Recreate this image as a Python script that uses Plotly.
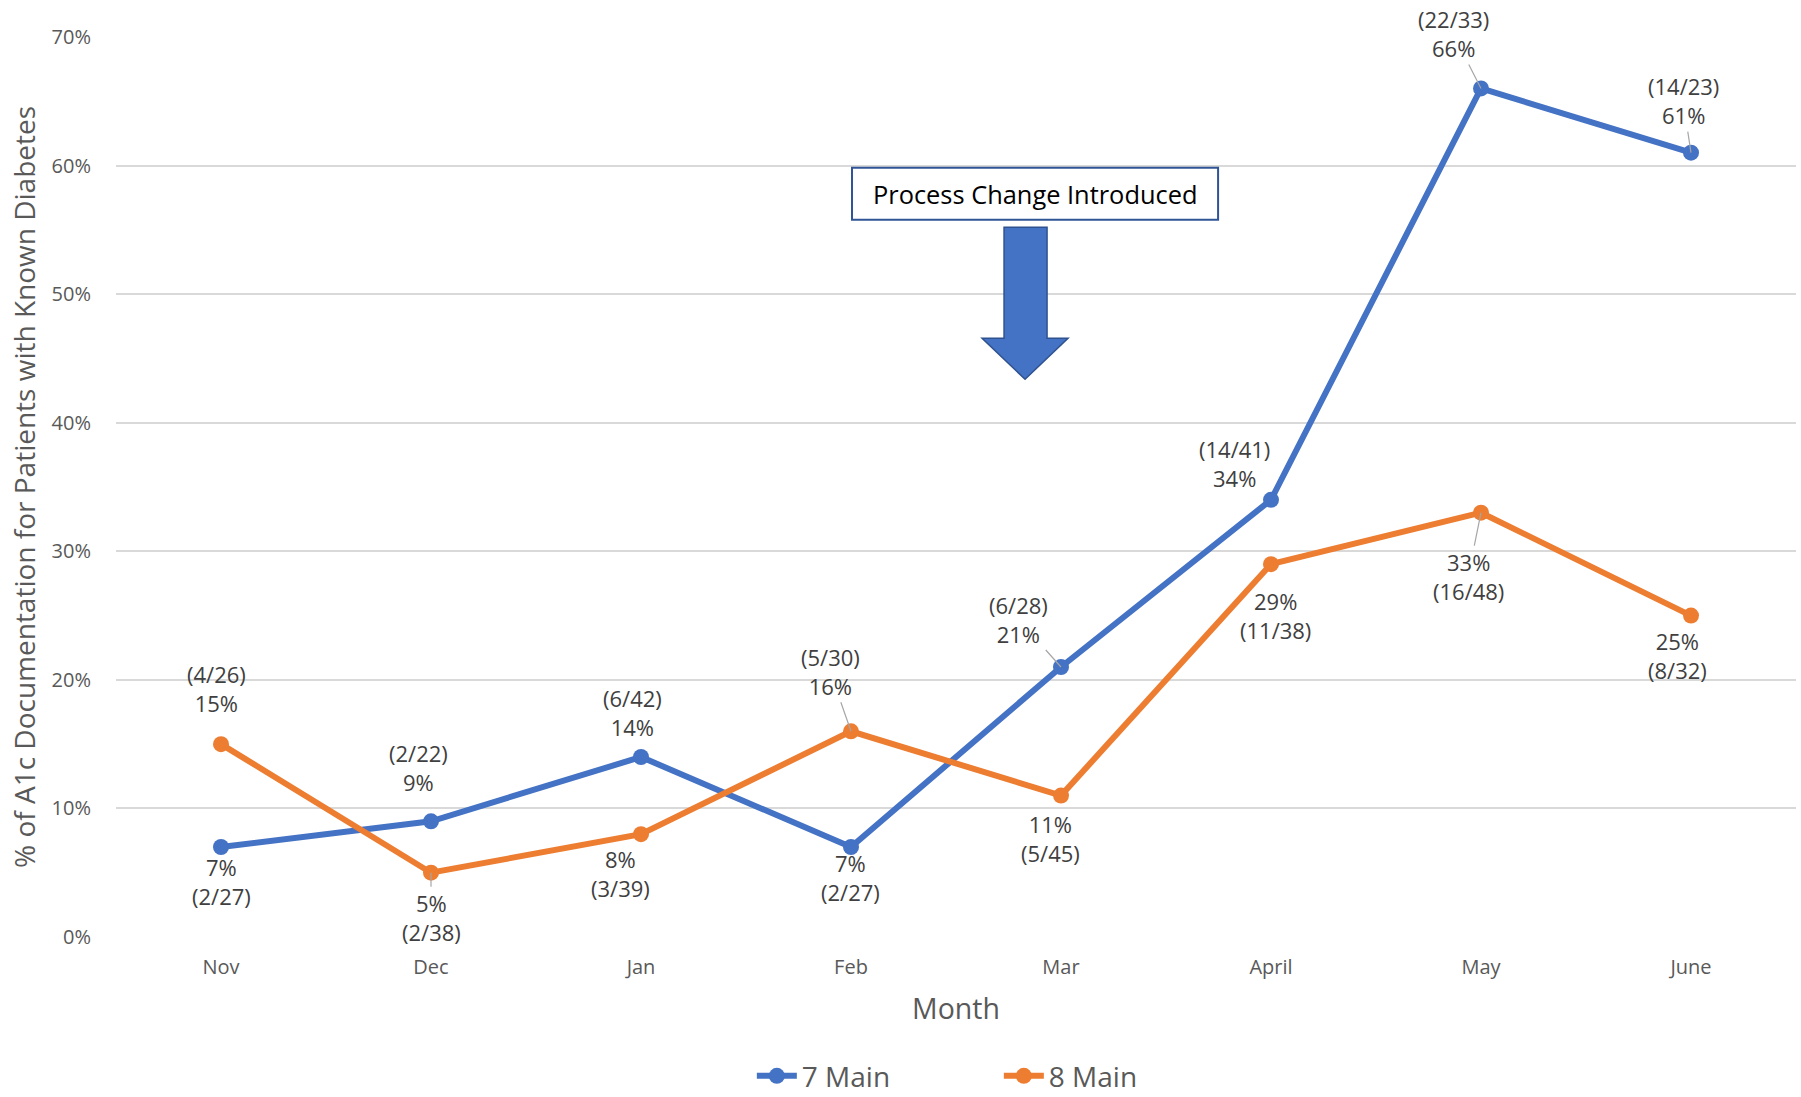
import plotly.graph_objects as go

months = ["Nov", "Dec", "Jan", "Feb", "Mar", "April", "May", "June"]
main7_pct = [7, 9, 14, 7, 21, 34, 66, 61]
main8_pct = [15, 5, 8, 16, 11, 29, 33, 25]
main7_frac = ["(2/27)", "(2/22)", "(6/42)", "(2/27)", "(6/28)", "(14/41)", "(22/33)", "(14/23)"]
main8_frac = ["(4/26)", "(2/38)", "(3/39)", "(5/30)", "(5/45)", "(11/38)", "(16/48)", "(8/32)"]

# label placement (pixel offsets from the point, and whether a leader line is drawn)
main7_off = [(0, 34), (-13, -54), (-9, -45), (-1, 30), (-43, -48), (-37, -36), (-28, -55), (-8, -52)]
main7_leader = [False, False, False, False, True, False, True, True]
main8_off = [(-5, -56), (0, 45), (-21, 39), (-21, -60), (-11, 43), (4, 51), (-13, 64), (-14, 40)]
main8_leader = [False, True, False, True, False, False, True, False]

BLUE = "#4472C4"
ORANGE = "#ED7D31"
FONT = "Open Sans"

fig = go.Figure()
fig.add_trace(go.Scatter(
    x=months, y=[v / 100 for v in main7_pct], name="7 Main", mode="lines+markers",
    line=dict(color=BLUE, width=6), marker=dict(color=BLUE, size=16), cliponaxis=False))
fig.add_trace(go.Scatter(
    x=months, y=[v / 100 for v in main8_pct], name="8 Main", mode="lines+markers",
    line=dict(color=ORANGE, width=6), marker=dict(color=ORANGE, size=16), cliponaxis=False))

annotations = []
for pcts, fracs, offs, leaders in [
    (main7_pct, main7_frac, main7_off, main7_leader),
    (main8_pct, main8_frac, main8_off, main8_leader),
]:
    for m, p, f, (ax, ay), lead in zip(months, pcts, fracs, offs, leaders):
        txt = f"{f}<br>{p}%" if ay < 0 else f"{p}%<br>{f}"
        annotations.append(dict(
            x=m, y=p / 100, xref="x", yref="y", text=txt, showarrow=True,
            ax=ax, ay=ay, arrowhead=0, arrowwidth=1.2, standoff=0,
            arrowcolor="#A6A6A6" if lead else "rgba(0,0,0,0)",
            font=dict(family=FONT, size=22, color="#404040"), align="center"))

annotations.append(dict(
    x=0.5470, y=0.826, xref="paper", yref="paper", text="Process Change Introduced",
    showarrow=False, font=dict(family=FONT, size=25.4, color="#000000"),
    xanchor="center", yanchor="middle"))

shapes = [
    dict(type="rect", xref="paper", yref="paper", x0=0.4381, x1=0.6560, y0=0.7970, y1=0.8548,
         line=dict(color="#2F5597", width=2), fillcolor="white", layer="above"),
    dict(type="path", xref="paper", yref="paper",
         path="M 0.5286 0.7886 L 0.5542 0.7886 L 0.5542 0.6652 L 0.5667 0.6652 "
              "L 0.5411 0.6197 L 0.5155 0.6652 L 0.5286 0.6652 Z",
         fillcolor=BLUE, line=dict(color="#2F528F", width=1.5), layer="above"),
]

fig.update_layout(
    width=1801, height=1097,
    margin=dict(l=116, r=5, t=37, b=160),
    plot_bgcolor="white", paper_bgcolor="white",
    font=dict(family=FONT, color="#595959"),
    showlegend=True,
    legend=dict(orientation="h", x=0.5255, xanchor="center",
                yref="container", y=0.019, yanchor="middle",
                font=dict(family=FONT, size=28, color="#595959"), itemwidth=40,
                entrywidth=192, tracegroupgap=0),
    annotations=annotations,
    shapes=shapes,
    xaxis=dict(
        type="category", range=[-0.5, 7.5], showgrid=False, showline=False, zeroline=False,
        ticks="outside", ticklen=12, tickcolor="rgba(0,0,0,0)", automargin=False,
        tickfont=dict(family=FONT, size=20, color="#595959"),
        title=dict(text="Month", font=dict(family=FONT, size=28.5, color="#595959"), standoff=20),
    ),
    yaxis=dict(
        range=[0, 0.7], dtick=0.1, tickformat=".0%", showgrid=True, gridcolor="#D9D9D9",
        gridwidth=1.5, zeroline=False, showline=False, automargin=False,
        ticks="outside", ticklen=20, tickcolor="rgba(0,0,0,0)",
        tickfont=dict(family=FONT, size=20, color="#595959"),
        title=dict(text="% of A1c Documentation for Patients with Known Diabetes",
                   font=dict(family=FONT, size=28, color="#595959"), standoff=7),
    ),
)

fig.write_html("out.html")
